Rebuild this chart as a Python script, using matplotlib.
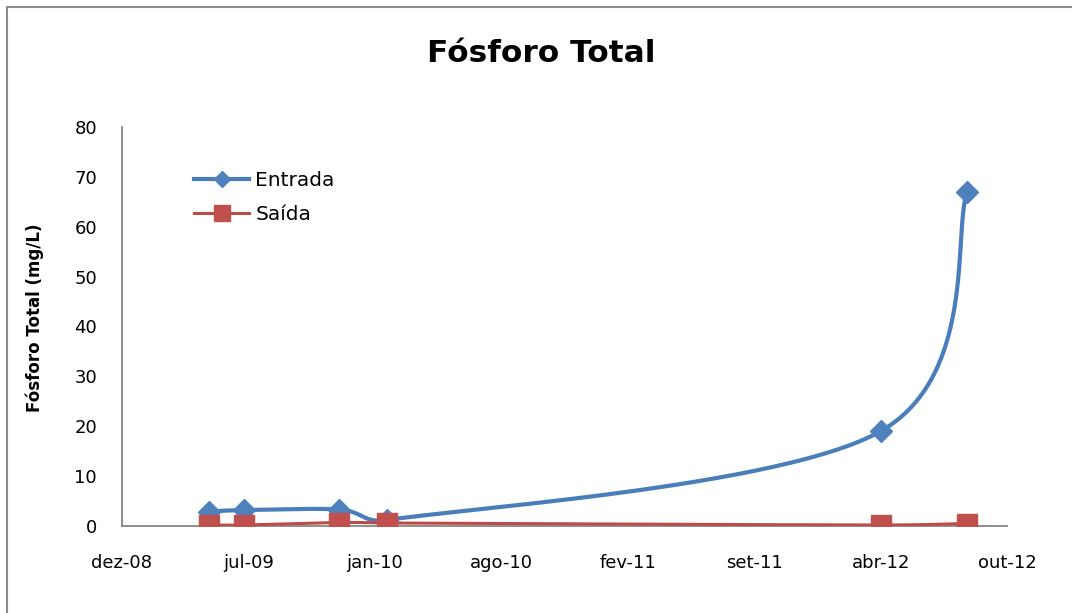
import numpy as np
import matplotlib.pyplot as plt
import matplotlib.dates as mdates
from matplotlib.lines import Line2D
from matplotlib.patches import Rectangle

plt.rcParams['font.family'] = ['DejaVu Sans']

# datas de coleta e valores (mg/L)
datas = ['2009-05-06', '2009-07-01', '2009-11-29', '2010-02-12', '2012-04-03', '2012-08-18']
entrada = [2.9, 3.2, 3.3, 1.2, 19.0, 67.0]
saida = [0.2, 0.2, 0.7, 0.6, 0.2, 0.5]

inicio = '2008-12-20'
passo = 200  # dias entre marcas do eixo x
x_labels = ['dez-08', 'jul-09', 'jan-10', 'ago-10', 'fev-11', 'set-11', 'abr-12', 'out-12']
y_ticks = [0, 10, 20, 30, 40, 50, 60, 70, 80]

AZUL = '#4A7EBB'
AZUL_M = '#4F81BD'
VERM = '#BE4B48'
VERM_M = '#C0504D'
CINZA = '#868686'

W, H = 1072, 613


def suaviza(x, y, sx, sy, n=60):
    # curva suavizada tipo Excel (bezier, tensao 1/6) em espaco de pixels
    p = np.column_stack([np.asarray(x) * sx, np.asarray(y) * sy])
    m = len(p)
    t = np.linspace(0, 1, n)[1:, None]
    out = [p[:1]]
    for i in range(m - 1):
        p0 = p[max(i - 1, 0)]
        p1 = p[i]
        p2 = p[i + 1]
        p3 = p[min(i + 2, m - 1)]
        seg = np.hypot(*(p2 - p1))
        a1 = (p2 - p0) / 6
        a2 = (p3 - p1) / 6
        lim = 0.5 * seg
        for a in (a1, a2):
            L = np.hypot(*a)
            if L > lim:
                a *= lim / L
        c1 = p1 + a1
        c2 = p2 - a2
        b = ((1 - t) ** 3 * p1 + 3 * (1 - t) ** 2 * t * c1
             + 3 * (1 - t) * t ** 2 * c2 + t ** 3 * p2)
        out.append(b)
    out = np.vstack(out)
    return out[:, 0] / sx, out[:, 1] / sy


fig = plt.figure(figsize=(W / 100, H / 100), dpi=100)
ax = fig.add_axes([122 / W, 1 - 526 / H, 885 / W, 399 / H])

x0 = mdates.datestr2num(inicio)
xmax = x0 + passo * (len(x_labels) - 1)
xs = mdates.datestr2num(datas)

sx = 885 / (xmax - x0)
sy = 399 / 80

xe, ye = suaviza(xs, entrada, sx, sy)
ax.plot(xe, ye, color=AZUL, lw=3.0, solid_capstyle='round', zorder=2)
ax.plot(xs, entrada, ls='none', marker='D', ms=11.5, color=AZUL_M, zorder=3)

xr, yr = suaviza(xs, saida, sx, sy)
ax.plot(xr, yr, color=VERM, lw=2.2, zorder=4)
ax.plot(xs, saida, ls='none', marker='s', ms=14.5, color=VERM_M, zorder=5)

ax.set_xlim(x0, xmax)
ax.set_ylim(0, 80)
ax.set_xticks([x0 + passo * k for k in range(len(x_labels))])
ax.set_xticklabels(x_labels)
ax.set_yticks(y_ticks)
ax.tick_params(length=0, labelsize=13)
ax.tick_params(axis='y', pad=18)
ax.tick_params(axis='x', pad=20.5)
for s in ['top', 'right']:
    ax.spines[s].set_visible(False)
for s in ['left', 'bottom']:
    ax.spines[s].set_color(CINZA)
    ax.spines[s].set_linewidth(1.3)
ax.set_clip_on(False)

handles = [
    Line2D([], [], color=AZUL, lw=3.0, marker='D', ms=8, markerfacecolor=AZUL_M, markeredgecolor=AZUL_M),
    Line2D([], [], color=VERM, lw=2.2, marker='s', ms=11.5, markerfacecolor=VERM_M, markeredgecolor=VERM_M),
]
ax.legend(handles, ['Entrada', 'Saída'], loc='center left',
          bbox_to_anchor=(194 / W, 1 - 197.5 / H), bbox_transform=fig.transFigure,
          frameon=False, fontsize=14.5, handlelength=2.75, handletextpad=0.3,
          labelspacing=0.72, borderpad=0, borderaxespad=0)

fig.text(541 / W, 1 - 53 / H, 'Fósforo Total', ha='center', va='center',
         fontsize=22.5, fontweight='bold')
fig.text(35 / W, 1 - 318 / H, 'Fósforo Total (mg/L)', rotation=90,
         ha='center', va='center', fontsize=12, fontweight='bold')

fig.add_artist(Rectangle((7 / W, -0.5), 2, 1.5 - 7 / H, transform=fig.transFigure,
                         fill=False, edgecolor='#8C8C8C', lw=1.5))

fig.savefig('out.png', dpi=100)
